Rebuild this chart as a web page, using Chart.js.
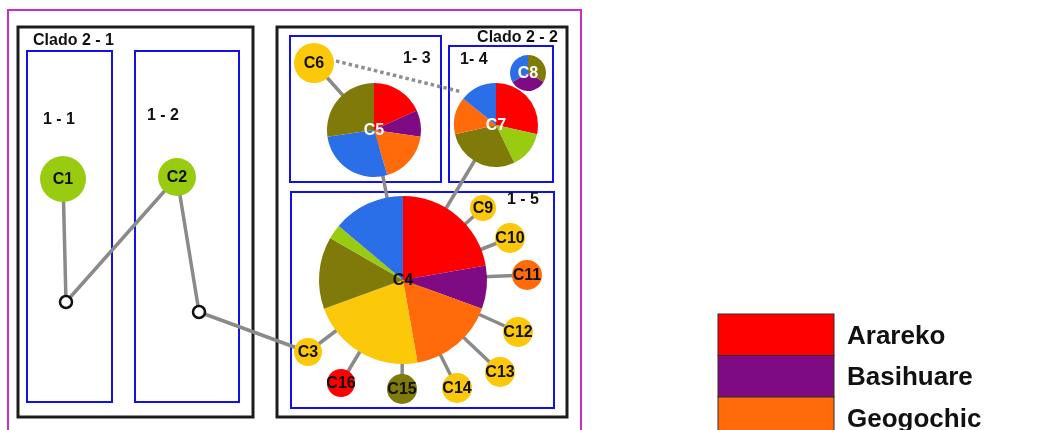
<!DOCTYPE html>
<html>
<head>
<meta charset="utf-8">
<title>Red de haplotipos</title>
<script src="https://cdn.jsdelivr.net/npm/chart.js@4"></script>
<style>
  body { margin: 0; background: #fff; }
  #wrap { width: 1063px; height: 430px; }
</style>
</head>
<body>
<div id="wrap"><canvas id="red"></canvas></div>
<script>
// DATOS DE LA RED

// Nombres de los haplotipos y su sitio en el plano
const haplotipos = ["C1", "C2", "C3", "C4", "C5", "C6", "C7", "C8",
  "C9", "C10", "C11", "C12", "C13", "C14", "C15", "C16"];
const posX = [63, 177, 308, 403, 374, 314, 496, 528, 483, 510, 527, 518, 500, 457, 402, 341];
const posY = [179, 177, 352, 280, 130, 63, 125, 73, 208, 238, 275, 332, 372, 388, 389, 383];
const radio = [23, 19, 14, 84, 47, 20, 42, 18, 13, 15, 15, 15, 15, 15, 15, 14];

// Frecuencia de cada población dentro de cada haplotipo (en sentido horario)
const frecuencias = [
  [["verde", 1]],
  [["verde", 1]],
  [["amarillo", 1]],
  [["rojo", 8], ["morado", 3], ["naranja", 6], ["amarillo", 8], ["oliva", 5], ["verde", 1], ["azul", 5]],
  [["rojo", 2], ["morado", 1], ["naranja", 2], ["azul", 3], ["oliva", 3]],
  [["amarillo", 1]],
  [["rojo", 2], ["verde", 1], ["oliva", 2], ["naranja", 1], ["azul", 1]],
  [["oliva", 1], ["morado", 1], ["azul", 1]],
  [["amarillo", 1]],
  [["amarillo", 1]],
  [["naranja", 1]],
  [["amarillo", 1]],
  [["amarillo", 1]],
  [["amarillo", 1]],
  [["oliva", 1]],
  [["rojo", 1]],
];

// Haplotipos que rotulamos en blanco
const rotuloBlanco = ["C5", "C7", "C8"];

// Nodos hipotéticos (vacíos)
const vacios = ["n1", "n2"];
const vaciosX = [66, 199];
const vaciosY = [302, 312];

// Conexiones de un paso mutacional
const enlaces = [
  ["C1", "n1"], ["n1", "C2"], ["C2", "n2"], ["n2", "C3"], ["C3", "C4"],
  ["C6", "C5"], ["C5", "C4"], ["C7", "C4"],
  ["C4", "C9"], ["C4", "C10"], ["C4", "C11"], ["C4", "C12"],
  ["C4", "C13"], ["C4", "C14"], ["C4", "C15"], ["C4", "C16"],
];
// Conexión alternativa (punteada) entre C6 y C7
const enlaceDudosoX = [336, 462];
const enlaceDudosoY = [61, 92];

// Leyenda
const leyenda = ["Arareko", "Basihuare", "Geogochic"];
const leyendaColores = ["rojo", "morado", "naranja"];

// COLORES Y MARCOS

const colores = {
  rojo: "#ff0000",
  morado: "#7e0a84",
  naranja: "#ff6a0a",
  amarillo: "#fcc80a",
  oliva: "#7f7a0a",
  verde: "#99cc11",
  azul: "#2a6ee8",
};

const fuente = "bold 16px 'Liberation Sans', Arial, sans-serif";

// x, y, ancho, alto, color, grosor
const marcos = [
  [8, 10, 573, 440, "#c62fc6", 2],
  [18, 27, 235, 390, "#1c1c1c", 3],
  [277, 27, 290, 390, "#1c1c1c", 3],
  [27, 51, 85, 351, "#1212e6", 2],
  [135, 51, 104, 351, "#1212e6", 2],
  [290, 36, 151, 146, "#1212e6", 2],
  [449, 46, 104, 136, "#1212e6", 2],
  [291, 192, 263, 216, "#1212e6", 2],
];

// texto, x, y, alineación
const titulos = [
  ["Clado 2 - 1", 33, 41, "left"],
  ["Clado 2 - 2", 558, 38, "right"],
  ["1 - 1", 43, 120, "left"],
  ["1 - 2", 147, 116, "left"],
  ["1- 3", 403, 59, "left"],
  ["1- 4", 460, 60, "left"],
  ["1 - 5", 507, 200, "left"],
];

function coordenada(nombre) {
  let i = haplotipos.indexOf(nombre);
  if (i >= 0) return { x: posX[i], y: posY[i] };
  i = vacios.indexOf(nombre);
  return { x: vaciosX[i], y: vaciosY[i] };
}

// DATASETS

const datasets = [];

// nodos de haplotipos (se pintan como tartas en el plugin)
datasets.push({
  type: "bubble",
  label: "haplotipos",
  data: haplotipos.map((h, i) => ({ x: posX[i], y: posY[i], r: radio[i] })),
  backgroundColor: "rgba(0,0,0,0)",
  borderWidth: 0,
  order: 0,
});

// nodos vacíos
datasets.push({
  type: "bubble",
  label: "vacios",
  data: vacios.map((v, i) => ({ x: vaciosX[i], y: vaciosY[i], r: 6 })),
  backgroundColor: "#ffffff",
  borderColor: "#111111",
  borderWidth: 2.5,
  order: 0,
});

enlaces.forEach(([a, b]) => {
  datasets.push({
    data: [coordenada(a), coordenada(b)],
    showLine: true,
    pointRadius: 0,
    borderColor: "#8a8a8a",
    borderWidth: 3.5,
    order: 1,
  });
});

datasets.push({
  data: enlaceDudosoX.map((x, i) => ({ x: x, y: enlaceDudosoY[i] })),
  showLine: true,
  pointRadius: 0,
  borderColor: "#8f8f8f",
  borderWidth: 3.5,
  borderDash: [3.5, 3],
  order: 1,
});

// PLUGINS

const pintarMarcos = {
  id: "marcos",
  beforeDatasetsDraw(chart) {
    const { ctx, scales } = chart;
    ctx.save();
    marcos.forEach(([x, y, w, h, color, grosor]) => {
      const px = scales.x.getPixelForValue(x);
      const py = scales.y.getPixelForValue(y);
      const pw = scales.x.getPixelForValue(x + w) - px;
      const ph = scales.y.getPixelForValue(y + h) - py;
      ctx.strokeStyle = color;
      ctx.lineWidth = grosor;
      ctx.strokeRect(px, py, pw, ph);
    });
    ctx.fillStyle = "#111";
    ctx.font = fuente;
    ctx.textBaseline = "middle";
    titulos.forEach(([texto, x, y, alin]) => {
      ctx.textAlign = alin;
      ctx.fillText(texto, scales.x.getPixelForValue(x), scales.y.getPixelForValue(y));
    });
    ctx.restore();
  },
};

const pintarTartas = {
  id: "tartas",
  afterDatasetsDraw(chart) {
    const ctx = chart.ctx;
    const meta = chart.getDatasetMeta(0);
    ctx.save();
    meta.data.forEach((el, i) => {
      const r = el.options.radius;
      const partes = frecuencias[i];
      const total = partes.reduce((s, p) => s + p[1], 0);
      let ang = -Math.PI / 2;
      partes.forEach(([pob, n]) => {
        const fin = ang + (n / total) * Math.PI * 2;
        ctx.beginPath();
        if (partes.length > 1) ctx.moveTo(el.x, el.y);
        ctx.arc(el.x, el.y, r, ang, fin);
        ctx.closePath();
        ctx.fillStyle = colores[pob];
        ctx.fill();
        ang = fin;
      });
    });
    // rótulos
    ctx.font = fuente;
    ctx.textAlign = "center";
    ctx.textBaseline = "middle";
    meta.data.forEach((el, i) => {
      ctx.fillStyle = rotuloBlanco.includes(haplotipos[i]) ? "#ffffff" : "#111111";
      ctx.fillText(haplotipos[i], el.x, el.y + 1);
    });
    ctx.restore();
  },
};

const pintarLeyenda = {
  id: "leyendaPropia",
  afterDraw(chart) {
    const { ctx, scales } = chart;
    ctx.save();
    ctx.font = "bold 26px 'Liberation Sans', Arial, sans-serif";
    ctx.textAlign = "left";
    ctx.textBaseline = "middle";
    leyenda.forEach((nombre, i) => {
      const x0 = scales.x.getPixelForValue(718);
      const x1 = scales.x.getPixelForValue(834);
      const y0 = scales.y.getPixelForValue(314 + i * 41.5);
      const y1 = scales.y.getPixelForValue(314 + (i + 1) * 41.5);
      ctx.fillStyle = colores[leyendaColores[i]];
      ctx.fillRect(x0, y0, x1 - x0, y1 - y0);
      ctx.strokeStyle = "#3a2a2a";
      ctx.lineWidth = 1;
      ctx.strokeRect(x0, y0, x1 - x0, y1 - y0);
      ctx.fillStyle = "#111";
      ctx.fillText(nombre, scales.x.getPixelForValue(847), (y0 + y1) / 2 + 2);
    });
    ctx.restore();
  },
};

// GRÁFICO

const ctx = document.getElementById("red").getContext("2d");

new Chart(ctx, {
  type: "scatter",
  data: { datasets: datasets },
  options: {
    responsive: true,
    maintainAspectRatio: false,
    animation: false,
    events: [],
    // sin relleno automático: el plano ocupa todo el lienzo
    layout: { padding: 0, autoPadding: false },
    scales: {
      x: { type: "linear", min: 0, max: 1063, display: false },
      y: { type: "linear", min: 0, max: 430, reverse: true, display: false },
    },
    plugins: {
      legend: { display: false },
      tooltip: { enabled: false },
    },
  },
  plugins: [pintarMarcos, pintarTartas, pintarLeyenda],
});
</script>
</body>
</html>
